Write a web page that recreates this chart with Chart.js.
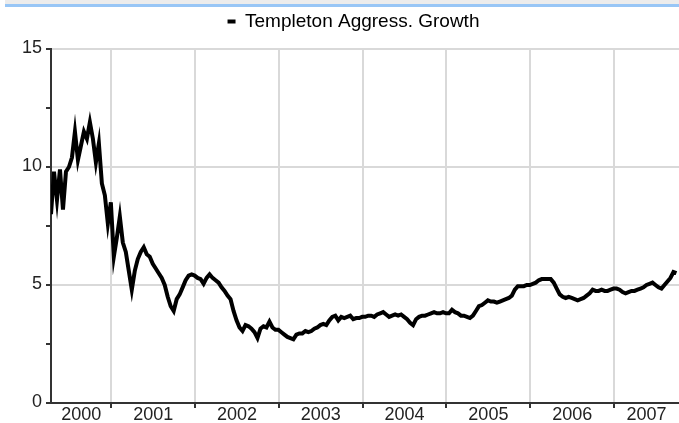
<!DOCTYPE html>
<html>
<head>
<meta charset="utf-8">
<script src="https://cdn.jsdelivr.net/npm/chart.js@4.4.1/dist/chart.umd.min.js"></script>
<style>
    html, body { margin: 0; padding: 0; background: #fff; }
    #wrap { position: relative; width: 679px; height: 423px; }
    #topbar {
        position: absolute; left: 5px; right: 0; top: 0; height: 4px;
        background: #ececec; border-bottom: 3px solid #98c6f6;
    }
    canvas { position: absolute; left: 0; top: 0; }
</style>
</head>
<body>
<div id="wrap">
    <canvas id="fundChart" width="679" height="423"></canvas>
    <div id="topbar"></div>
</div>
<script>
const seriesName = "Templeton Aggress. Growth";

// year labels on the x axis, and the visible date range
const years = [2000, 2001, 2002, 2003, 2004, 2005, 2006, 2007];
const xMin = 2000.28;
const xMax = 2007.775;

// price, one value every 1/28 year starting at xMin
const sampleStep = 1 / 28;
const prices = [
    8.0, 9.8, 8.6, 9.9, 8.2, 9.8, 10.0, 10.4, 11.5, 10.3,
    10.9, 11.5, 11.2, 11.9, 11.2, 10.2, 11.0, 9.3, 8.8, 7.6,
    8.5, 6.2, 7.0, 7.9, 6.8, 6.4, 5.6, 4.8, 5.6, 6.1,
    6.4, 6.6, 6.3, 6.2, 5.9, 5.7, 5.5, 5.3, 5.0, 4.5,
    4.1, 3.9, 4.4, 4.6, 4.9, 5.2, 5.4, 5.45, 5.4, 5.3,
    5.25, 5.05, 5.3, 5.45, 5.3, 5.2, 5.1, 4.9, 4.75, 4.55,
    4.4, 3.9, 3.5, 3.2, 3.05, 3.3, 3.25, 3.15, 3.0, 2.75,
    3.15, 3.25, 3.2, 3.45, 3.2, 3.1, 3.1, 3.0, 2.9, 2.8,
    2.75, 2.7, 2.9, 2.95, 2.95, 3.05, 3.0, 3.05, 3.15, 3.2,
    3.3, 3.35, 3.3, 3.5, 3.65, 3.7, 3.5, 3.65, 3.6, 3.65,
    3.7, 3.55, 3.6, 3.6, 3.65, 3.65, 3.7, 3.7, 3.65, 3.75,
    3.8, 3.85, 3.75, 3.65, 3.7, 3.75, 3.7, 3.75, 3.65, 3.55,
    3.4, 3.3, 3.55, 3.65, 3.7, 3.7, 3.75, 3.8, 3.85, 3.8,
    3.8, 3.85, 3.8, 3.8, 3.95, 3.85, 3.8, 3.7, 3.7, 3.65,
    3.6, 3.7, 3.9, 4.1, 4.15, 4.25, 4.35, 4.3, 4.3, 4.25,
    4.3, 4.35, 4.4, 4.45, 4.55, 4.8, 4.95, 4.95, 4.95, 5.0,
    5.0, 5.05, 5.1, 5.2, 5.25, 5.25, 5.25, 5.25, 5.1, 4.85,
    4.6, 4.5, 4.45, 4.5, 4.45, 4.4, 4.35, 4.4, 4.45, 4.55,
    4.65, 4.8, 4.75, 4.75, 4.8, 4.75, 4.75, 4.8, 4.85, 4.85,
    4.8, 4.7, 4.65, 4.7, 4.75, 4.75, 4.8, 4.85, 4.9, 5.0,
    5.05, 5.1, 5.0, 4.9, 4.85, 5.0, 5.15, 5.3, 5.55, 5.5
];

// y axis: ticks every 2.5, labels and grid only every 5
const yTicks = [0, 2.5, 5, 7.5, 10, 12.5, 15];
const yLabelled = [0, 5, 10, 15];

const points = prices.map((p, i) => ({ x: xMin + i * sampleStep, y: p }));

// x ticks: year boundaries get a grid line, year middles get the label
const xTicks = [];
years.forEach((yr) => {
    if (yr > xMin && yr < xMax) xTicks.push({ value: yr });
    const mid = (Math.max(yr, xMin) + Math.min(yr + 1, xMax)) / 2;
    xTicks.push({ value: mid, label: String(yr) });
});

const gridColor = "#d9d9d9";
const axisColor = "#333333";
const clear = "rgba(0,0,0,0)";

// extra room under the legend, and legend nudged right a little
const legendTweak = {
    id: "legendTweak",
    beforeInit(chart) {
        const fit = chart.legend.fit;
        chart.legend.fit = function () {
            fit.call(this);
            this.height += 8;
        };
    },
    afterLayout(chart) {
        chart.legend.left += 14;
        chart.legend.right += 14;
    },
};

Chart.defaults.font.family = "'Liberation Sans', Arial, sans-serif";
Chart.defaults.color = "#222";

const ctx = document.getElementById("fundChart").getContext("2d");
new Chart(ctx, {
    type: "line",
    data: {
        datasets: [
            {
                label: seriesName,
                data: points,
                borderColor: "#000",
                backgroundColor: "#000",
                borderWidth: 4,
                pointRadius: 0,
                tension: 0,
                fill: false,
            },
        ],
    },
    plugins: [legendTweak],
    options: {
        responsive: false,
        animation: false,
        layout: { padding: { top: 2, left: 0, right: 0, bottom: 0 } },
        plugins: {
            tooltip: { enabled: false },
            legend: {
                display: true,
                position: "top",
                labels: {
                    boxWidth: 8,
                    boxHeight: 4,
                    padding: 10,
                    font: { size: 19 },
                    generateLabels: () => [
                        {
                            text: seriesName,
                            fillStyle: "#000",
                            strokeStyle: clear,
                            lineWidth: 0,
                            hidden: false,
                            datasetIndex: 0,
                        },
                    ],
                },
            },
        },
        scales: {
            x: {
                type: "linear",
                min: xMin,
                max: xMax,
                afterBuildTicks: (scale) => {
                    scale.ticks = xTicks.map((t) => ({ value: t.value }));
                },
                afterFit: (scale) => {
                    scale.height = 20;
                },
                grid: {
                    lineWidth: 2,
                    tickLength: 5,
                    color: (c) => (c.tick && Number.isInteger(c.tick.value) ? gridColor : clear),
                    tickColor: (c) => (c.tick && Number.isInteger(c.tick.value) ? axisColor : clear),
                },
                border: { color: axisColor, width: 2 },
                ticks: {
                    autoSkip: false,
                    maxRotation: 0,
                    padding: -4,
                    font: { size: 18 },
                    callback: (value) => {
                        const t = xTicks.find((k) => Math.abs(k.value - value) < 1e-6);
                        return t && t.label ? t.label : "";
                    },
                },
            },
            y: {
                min: 0,
                max: 15,
                afterBuildTicks: (scale) => {
                    scale.ticks = yTicks.map((v) => ({ value: v }));
                },
                afterFit: (scale) => {
                    scale.width = 51;
                },
                grid: {
                    lineWidth: 2,
                    tickLength: 5,
                    color: (c) => (c.tick && yLabelled.includes(c.tick.value) ? gridColor : clear),
                    tickColor: axisColor,
                },
                border: { color: axisColor, width: 2 },
                ticks: {
                    padding: 4,
                    labelOffset: -1,
                    font: { size: 18 },
                    callback: (value) => (yLabelled.includes(value) ? String(value) : ""),
                },
            },
        },
    },
});
</script>
</body>
</html>
